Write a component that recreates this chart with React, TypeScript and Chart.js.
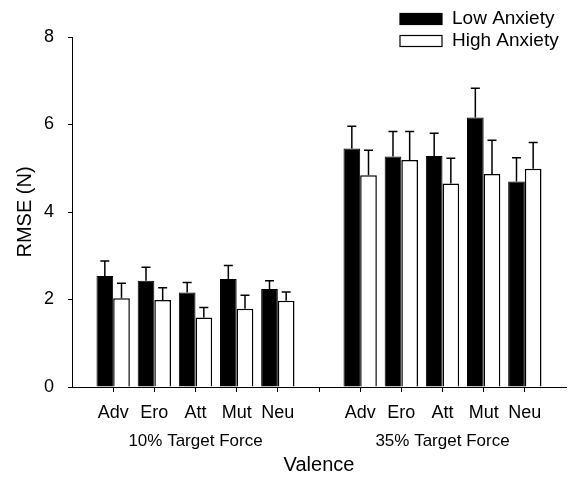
import React, { useEffect, useRef } from "react";
import { Chart, registerables } from "chart.js";

Chart.register(...registerables);

const categories = ["Adv", "Ero", "Att", "Mut", "Neu"];
const groupLabels = ["10% Target Force", "35% Target Force"];
const seriesNames = ["Low Anxiety", "High Anxiety"];

const low10 = [2.54, 2.43, 2.16, 2.47, 2.24];
const low10Err = [0.34, 0.31, 0.23, 0.31, 0.19];
const high10 = [2.03, 1.99, 1.59, 1.79, 1.97];
const high10Err = [0.34, 0.28, 0.23, 0.31, 0.2];

const low35 = [5.45, 5.27, 5.28, 6.16, 4.7];
const low35Err = [0.51, 0.57, 0.52, 0.67, 0.54];
const high35 = [4.84, 5.19, 4.65, 4.87, 4.99];
const high35Err = [0.57, 0.65, 0.58, 0.77, 0.6];

const yTicks = [0, 2, 4, 6, 8];

const FONT = "'Liberation Sans', Arial, sans-serif";

const labels = ["", ...categories, "", ...categories, ""];
const lowData = [null, ...low10, null, ...low35, null];
const highData = [null, ...high10, null, ...high35, null];
const lowErr = [null, ...low10Err, null, ...low35Err, null];
const highErr = [null, ...high10Err, null, ...high35Err, null];

const errorBarPlugin = {
  id: "errorBars",
  afterDatasetsDraw(chart: any) {
    const ctx = chart.ctx;
    const yScale = chart.scales.y;
    const errs = [lowErr, highErr];
    ctx.save();
    ctx.strokeStyle = "#000";
    ctx.lineWidth = 1.5;
    chart.data.datasets.forEach((ds: any, i: number) => {
      const meta = chart.getDatasetMeta(i);
      meta.data.forEach((el: any, j: number) => {
        const v = ds.data[j];
        const e = errs[i][j];
        if (v == null || e == null) return;
        const yTop = yScale.getPixelForValue(v + e);
        ctx.beginPath();
        ctx.moveTo(el.x, el.y);
        ctx.lineTo(el.x, yTop);
        ctx.moveTo(el.x - 4.5, yTop);
        ctx.lineTo(el.x + 4.5, yTop);
        ctx.stroke();
      });
    });
    ctx.restore();
  },
};

const extrasPlugin = {
  id: "extras",
  afterDraw(chart: any) {
    const ctx = chart.ctx;
    const xScale = chart.scales.x;
    ctx.save();
    ctx.fillStyle = "#000";
    ctx.font = `17px ${FONT}`;
    ctx.textAlign = "center";
    ctx.textBaseline = "middle";
    const centers = [3, 9];
    groupLabels.forEach((g, i) => {
      ctx.fillText(g, xScale.getPixelForValue(centers[i]), 441);
    });
    // legend
    const fills = ["#000", "#fff"];
    ctx.textAlign = "left";
    ctx.font = `19px ${FONT}`;
    seriesNames.forEach((name, i) => {
      const yc = 19 + i * 22;
      ctx.fillStyle = fills[i];
      ctx.fillRect(400, yc - 5.5, 42, 11);
      ctx.strokeStyle = "#000";
      ctx.lineWidth = 1.2;
      ctx.strokeRect(400, yc - 5.5, 42, 11);
      ctx.fillStyle = "#000";
      ctx.fillText(name, 452, yc);
    });
    ctx.restore();
  },
};

export default function App() {
  const ref = useRef<HTMLCanvasElement>(null);
  useEffect(() => {
    if (!ref.current) return;
    const chart = new Chart(ref.current, {
      type: "bar",
      data: {
        labels,
        datasets: [
          {
            label: seriesNames[0],
            data: lowData,
            backgroundColor: "#000",
            borderColor: "#000",
            borderWidth: 1,
            categoryPercentage: 0.81,
            barPercentage: 1,
          },
          {
            label: seriesNames[1],
            data: highData,
            backgroundColor: "#fff",
            borderColor: "#000",
            borderWidth: 1.5,
            categoryPercentage: 0.81,
            barPercentage: 1,
          },
        ] as any,
      },
      options: {
        responsive: false,
        animation: false,
        layout: { padding: { top: 37, right: 2, left: 0, bottom: 0 } },
        plugins: { legend: { display: false }, tooltip: { enabled: false } },
        scales: {
          x: {
            type: "category",
            offset: false,
            grid: {
              offset: false,
              drawOnChartArea: false,
              drawTicks: true,
              tickLength: 5,
              color: (c: any) =>
                c.index === 0 || c.index === labels.length - 1 ? "rgba(0,0,0,0)" : "#000",
            },
            border: { display: true, color: "#000", width: 1 },
            ticks: {
              autoSkip: false,
              maxRotation: 0,
              color: "#000",
              padding: 10,
              font: { family: FONT, size: 18 },
            },
            title: {
              display: true,
              text: "Valence",
              color: "#000",
              padding: { top: 0, bottom: 2 },
              font: { family: FONT, size: 20 },
            },
            afterFit: (s: any) => {
              s.height = 92;
            },
          },
          y: {
            min: 0,
            max: 8,
            afterBuildTicks: (s: any) => {
              s.ticks = yTicks.map((v) => ({ value: v }));
            },
            grid: { drawOnChartArea: false, drawTicks: true, tickLength: 4, color: "#000" },
            border: { display: true, color: "#000", width: 1 },
            ticks: {
              color: "#000",
              padding: 14,
              font: { family: FONT, size: 18 },
            },
            title: {
              display: true,
              text: "RMSE (N)",
              color: "#000",
              padding: { top: 13, bottom: 0 },
              font: { family: FONT, size: 20 },
            },
            afterFit: (s: any) => {
              s.width = 72;
            },
          },
        },
      },
      plugins: [errorBarPlugin, extrasPlugin],
    });
    return () => chart.destroy();
  }, []);
  return (
    <div style={{ position: "absolute", left: 0, top: 0, width: 576, height: 479, background: "#fff" }}>
      <canvas ref={ref} width={576} height={479} />
    </div>
  );
}
